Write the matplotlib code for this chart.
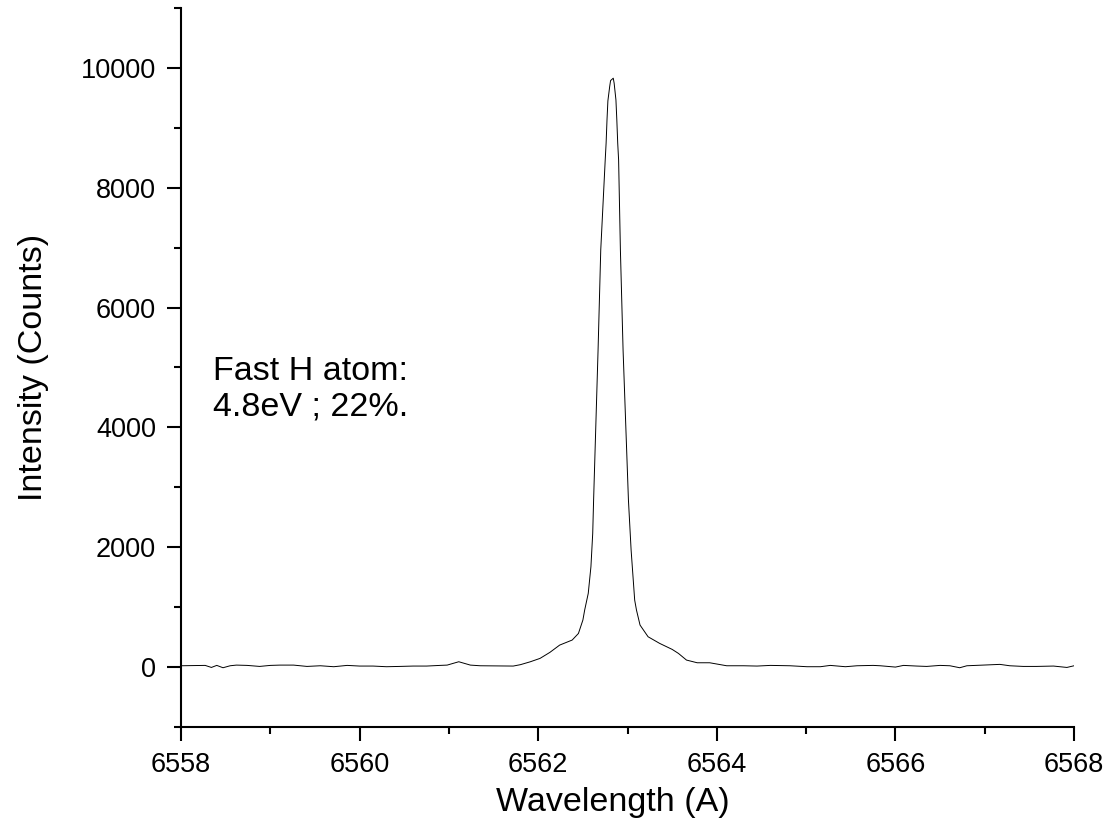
import matplotlib
matplotlib.use("Agg")
import matplotlib.pyplot as plt
from matplotlib.ticker import MultipleLocator

plt.rcParams['font.family'] = ['Liberation Sans', 'DejaVu Sans']

# H-alpha line profile
wavelength = [6558.00, 6558.27, 6558.34, 6558.40, 6558.47, 6558.55, 6558.62, 6558.74,
              6558.88, 6559.00, 6559.11, 6559.26, 6559.41, 6559.56, 6559.71, 6559.86,
              6560.00, 6560.15, 6560.30, 6560.45, 6560.60, 6560.75, 6560.90, 6560.98,
              6561.11, 6561.24, 6561.35, 6561.50, 6561.72, 6561.80, 6561.91, 6562.02,
              6562.13, 6562.24, 6562.38, 6562.45, 6562.50, 6562.52, 6562.56, 6562.59,
              6562.61, 6562.62, 6562.67, 6562.70, 6562.75, 6562.76, 6562.77, 6562.78,
              6562.80, 6562.81, 6562.84, 6562.85, 6562.87, 6562.88, 6562.89, 6562.90,
              6562.92, 6562.95, 6563.01, 6563.04, 6563.08, 6563.10, 6563.14, 6563.23,
              6563.36, 6563.50, 6563.57, 6563.66, 6563.78, 6563.92, 6564.11, 6564.30,
              6564.45, 6564.60, 6564.82, 6565.01, 6565.16, 6565.27, 6565.44, 6565.57,
              6565.75, 6565.83, 6566.00, 6566.09, 6566.24, 6566.35, 6566.50, 6566.61,
              6566.72, 6566.80, 6566.98, 6567.17, 6567.28, 6567.43, 6567.58, 6567.77,
              6567.92, 6568.00]
intensity = [22, 28, -6, 28, -11, 22, 33, 28,
             11, 28, 33, 33, 11, 22, 6, 28,
             17, 17, 6, 11, 17, 17, 28, 33,
             89, 33, 22, 20, 17, 40, 88, 145,
             245, 367, 451, 561, 785, 952, 1230, 1675,
             2230, 2788, 5292, 6962, 8464, 8743, 9132, 9450,
             9688, 9788, 9828, 9745, 9466, 9132, 8743, 8464,
             6962, 5292, 2788, 1953, 1118, 952, 701, 506,
             395, 295, 228, 117, 72, 72, 22, 22,
             17, 28, 22, 6, 6, 28, 6, 22,
             28, 22, 0, 28, 17, 11, 28, 22,
             -11, 22, 33, 45, 22, 11, 11, 17,
             -6, 22]

fig = plt.figure(figsize=(11.1, 8.3), dpi=100)
ax = fig.add_axes([0.1631, 0.1241, 0.8045, 0.8663])

ax.plot(wavelength, intensity, color='black', linewidth=0.7)

ax.set_xlim(6558, 6568)
ax.set_ylim(-1000, 11000)
ax.xaxis.set_major_locator(MultipleLocator(2))
ax.xaxis.set_minor_locator(MultipleLocator(1))
ax.yaxis.set_minor_locator(MultipleLocator(1000))
ax.set_yticks([0, 2000, 4000, 6000, 8000, 10000])

for side in ['top', 'right']:
    ax.spines[side].set_visible(False)
for side in ['left', 'bottom']:
    ax.spines[side].set_linewidth(1.5)

ax.tick_params(which='major', direction='out', length=10, width=1.5,
               labelsize=19.5, pad=8)
ax.tick_params(which='minor', direction='out', length=5, width=1.5)

ax.set_xlabel('Wavelength (A)', fontsize=24.5)
ax.xaxis.set_label_coords(0.483, -0.083)
ax.set_ylabel('Intensity (Counts)', fontsize=24.5)
ax.yaxis.set_label_coords(-0.148, 0.5)

ax.text(6558.36, 4640, 'Fast H atom:\n4.8eV ; 22%.', fontsize=24.5,
        va='center', ha='left', linespacing=1.2)

fig.savefig('out.png', dpi=100)
